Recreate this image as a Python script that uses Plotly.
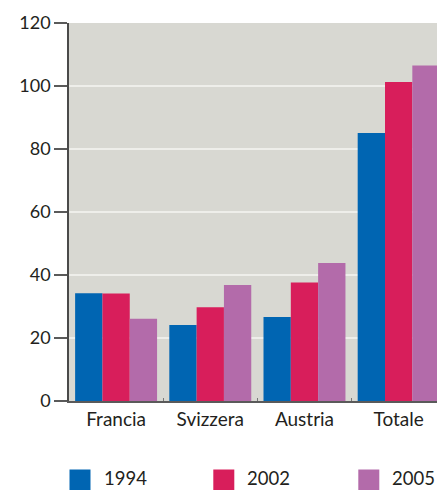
import plotly.graph_objects as go

categories = ["Francia", "Svizzera", "Austria", "Totale"]
series_names = ["1994", "2002", "2005"]
values_1994 = [34.2, 24.1, 26.7, 85.1]
values_2002 = [34.1, 29.8, 37.6, 101.3]
values_2005 = [26.1, 36.8, 43.8, 106.5]
colors = ["#0065B2", "#D81E5B", "#B36BAA"]
y_ticks = [0, 20, 40, 60, 80, 100, 120]

W, H = 437, 490
L, R, T, B = 69, 0, 23, 89
FONT = "Lato, 'Open Sans', sans-serif"
TXT = "#231F20"

fig = go.Figure()
for name, vals, col in zip(series_names, [values_1994, values_2002, values_2005], colors):
    fig.add_trace(go.Bar(x=categories, y=vals, name=name, marker_color=col,
                         marker_line_width=0, showlegend=False))

plot_h = H - T - B
def py(p):
    return (H - B - p) / plot_h
def px(p):
    return (p - L) / (W - L - R)

legend_x = [69.5, 213.3, 358.3]
for name, col, lx in zip(series_names, colors, legend_x):
    fig.add_shape(type="rect", xref="paper", yref="paper",
                  x0=px(lx), x1=px(lx + 21), y0=py(491), y1=py(469.5),
                  fillcolor=col, line_width=0)
    fig.add_annotation(xref="paper", yref="paper", x=px(lx + 32), y=py(477.5),
                       text=name, showarrow=False, xanchor="left", yanchor="middle",
                       font=dict(family=FONT, size=18.5, color=TXT))

fig.update_layout(
    width=W, height=H,
    margin=dict(l=L, r=R, t=T, b=B, pad=0),
    paper_bgcolor="white",
    plot_bgcolor="#D8D8D2",
    barmode="group",
    bargap=0.13,
    bargroupgap=0,
    font=dict(family=FONT, color=TXT),
    xaxis=dict(range=[-0.5, 3.407], showgrid=False, showline=True,
               linecolor="#5A5A5A", linewidth=1.5, ticks="inside", ticklen=3,
               tickcolor="#777777", tickson="boundaries",
               tickfont=dict(family=FONT, size=19, color=TXT), fixedrange=True),
    yaxis=dict(range=[0, 120], tickvals=y_ticks, showgrid=True,
               gridcolor="#EEEEEA", gridwidth=1.5, zeroline=False,
               showline=True, linecolor="#4A4A4A", linewidth=1.5,
               ticks="outside", ticklen=13, tickcolor="#5A5A5A", tickwidth=1.5,
               tickfont=dict(family=FONT, size=18, color=TXT), fixedrange=True),
)

fig.write_html("out.html",
               config={"displayModeBar": False},
               post_script="document.body.style.margin='0';document.body.style.overflow='hidden';")
